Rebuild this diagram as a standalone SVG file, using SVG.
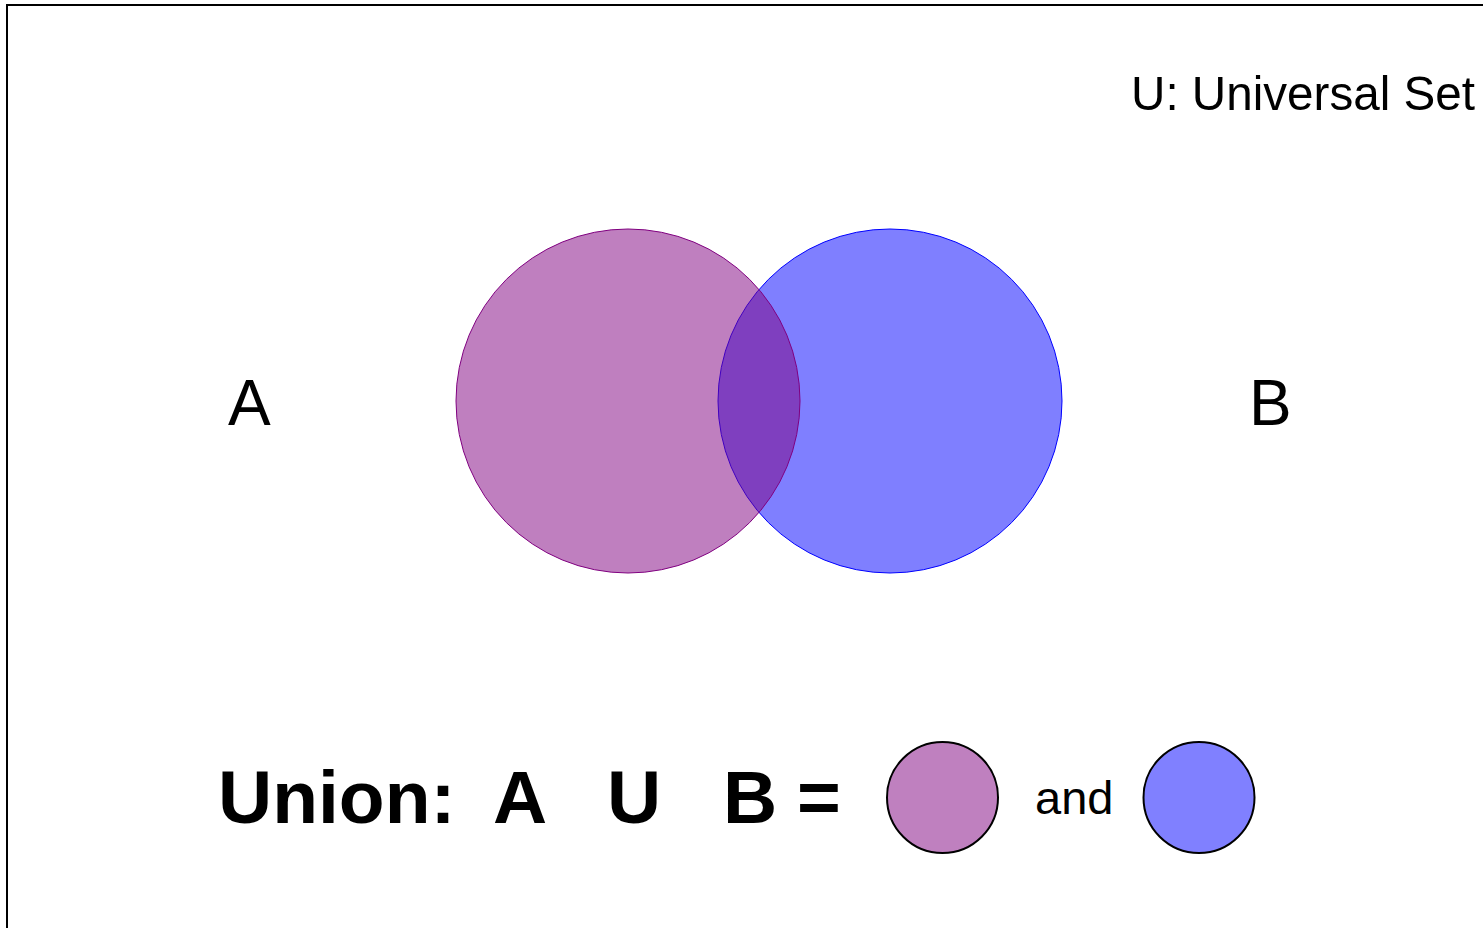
<svg xmlns="http://www.w3.org/2000/svg" width="1483" height="928" viewBox="0 0 1483 928">
<style>
.t{font-family:"Liberation Sans",Arial,sans-serif;fill:#000}
.b{font-weight:bold}
.leg{stroke:#000;stroke-width:2}
</style>
<rect x="0" y="0" width="1483" height="928" fill="#fff"/>
<rect id="universe" x="7" y="5" width="1600" height="1000" fill="none" stroke="#000" stroke-width="2"/>
<text class="t" x="1131" y="110" font-size="49" textLength="344" lengthAdjust="spacingAndGlyphs">U: Universal Set</text>
<g id="setB">
<circle cx="890" cy="401" r="172" fill="#0000FF" fill-opacity="0.5" stroke="#0000FF" stroke-width="1"/>
</g>
<g id="setA">
<circle cx="628" cy="401" r="172" fill="#800080" fill-opacity="0.5" stroke="#800080" stroke-width="1"/>
</g>
<g id="labelA"><text class="t" x="228" y="425" font-size="64">A</text></g>
<g id="labelB"><text class="t" x="1249" y="425" font-size="64">B</text></g>
<g id="formula">
<text class="t b" y="823" font-size="75"><tspan x="218">Union:</tspan><tspan x="493">A</tspan><tspan x="607">U</tspan><tspan x="723">B</tspan><tspan x="797">=</tspan></text>
</g>
<g id="legendA"><circle class="leg" cx="942.5" cy="797.5" r="55.5" fill="#BF80BF"/></g>
<g id="legendAnd"><text class="t" x="1035" y="814" font-size="47">and</text></g>
<g id="legendB"><circle class="leg" cx="1199" cy="797.5" r="55.5" fill="#8080FF"/></g>
</svg>
